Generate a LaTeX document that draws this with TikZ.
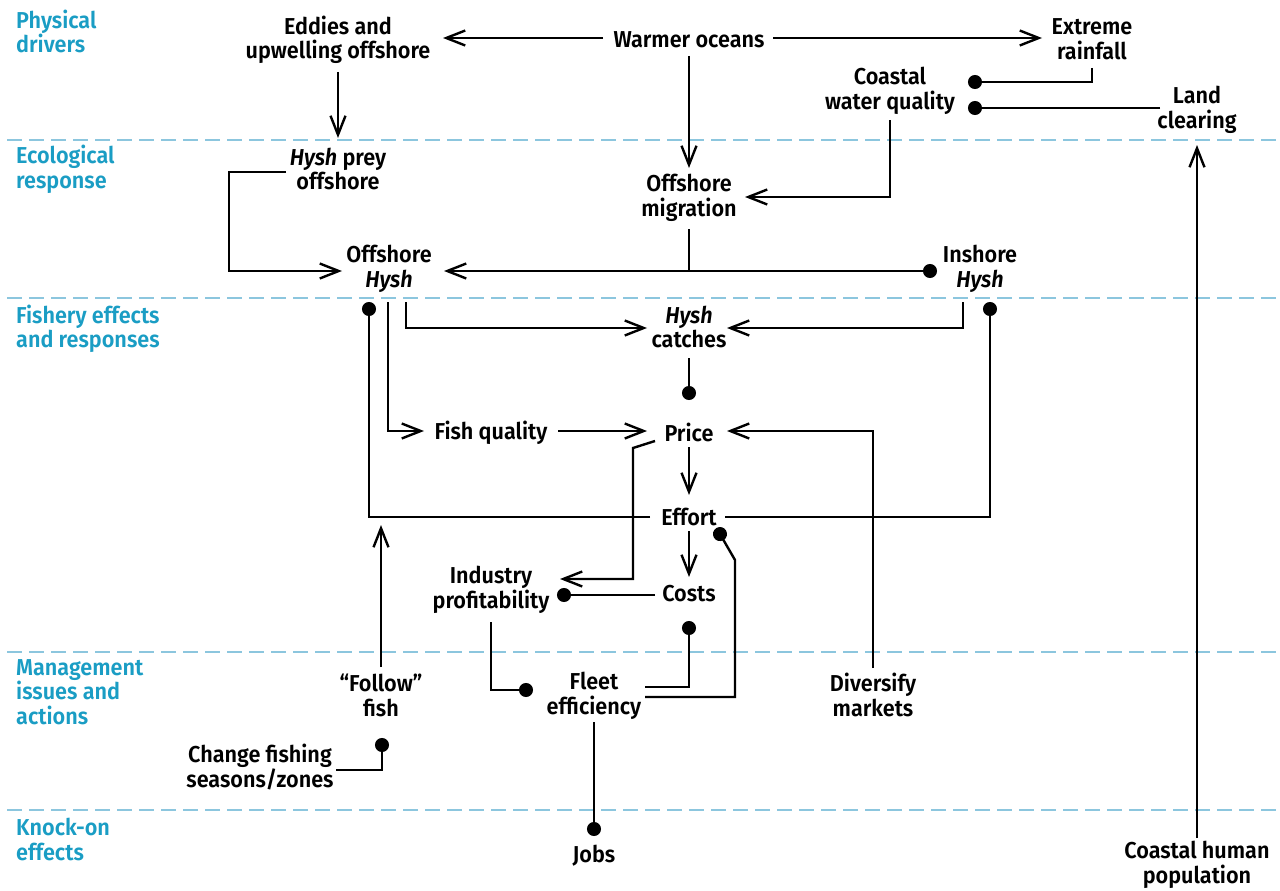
\documentclass[tikz,border=0pt]{standalone}
\usepackage{fontspec}
\setmainfont{Fira Sans SemiBold}[ItalicFont={Fira Sans SemiBold Italic}, FakeStretch=0.94]
\usetikzlibrary{arrows.meta,calc}
\definecolor{secblue}{RGB}{26,157,196}
\definecolor{ruleblue}{RGB}{140,198,222}
% strut giving every line box the same height/depth
\newcommand\lnstrut{\rule[-2pt]{0pt}{24pt}}
\begin{document}
\begin{tikzpicture}[x=1pt,y=-1pt,
  every node/.style={font=\fontsize{23}{24.5}\selectfont, align=center, inner sep=0pt,
    execute at begin node=\lnstrut, execute at end node=\lnstrut},
  sec/.style={text=secblue, align=left, anchor=west},
  band/.style={ruleblue, line width=1.6pt, dash pattern=on 15pt off 7pt},
  link/.style={line width=2.4pt},
  arr/.style={link, -{Straight Barb[length=19pt,width=15pt]}},
  neg/.style={link, -{Circle[length=14pt]}},
  negarr/.style={link, {Circle[length=14pt]}-{Straight Barb[length=19pt,width=15pt]}}]
\useasboundingbox (0,0) rectangle (1280,891);

% band separators
\foreach \yy in {140,298,652,810} \draw[band] (7,\yy) -- (1278,\yy);

% band titles
\node[sec] (s1) at (16,32.5) {Physical\\drivers};
\node[sec] (s2) at (16,169.5) {Ecological\\response};
\node[sec] (s3) at (16,329) {Fishery effects\\and responses};
\node[sec] (s4) at (16,693) {Management\\issues and\\actions};
\node[sec] (s5) at (16,840.5) {Knock-on\\effects};

% factors
\node (eddies) at (338,40) {Eddies and\\upwelling offshore};
\node (warm) at (689,38) {Warmer oceans};
\node (rain) at (1092,40) {Extreme\\rainfall};
\node (coastal) at (890,91) {Coastal\\water quality};
\node (land) at (1197,110) {Land\\clearing};
\node (prey) at (338,170) {\textit{Hysh} prey\\offshore};
\node (migr) at (689,198) {Offshore\\migration};
\node (offh) at (389,269) {Offshore\\\textit{Hysh}};
\node (inh) at (980,269) {Inshore\\\textit{Hysh}};
\node (catch) at (689,328) {\textit{Hysh}\\catches};
\node (fishq) at (491,431) {Fish quality};
\node (price) at (689,431) {Price};
\node (effort) at (689,515) {Effort};
\node (costs) at (689,591) {Costs};
\node (indp) at (491,590) {Industry\\profitability};
\node (follow) at (381,696) {“Follow”\\fish};
\node (fleet) at (594,696) {Fleet\\efficiency};
\node (divers) at (873,696) {Diversify\\markets};
\node (change) at (260,767) {Change fishing\\seasons/zones};
\node (jobs) at (594,853) {Jobs};
\node (pop) at (1197,865) {Coastal human\\population};

% physical drivers
\draw[arr] ($(warm)+(-86,0)$) -- ($(eddies)+(105,-2)$);
\draw[arr] ($(warm)+(84,0)$) -- ($(rain)+(-50,-2)$);
\draw[arr] ($(warm)+(0,18)$) -- ($(migr)+(0,-30)$);
\draw[arr] ($(eddies)+(0,32)$) -- ($(prey)+(0,-32)$);
\draw[neg] ($(rain)+(0,28)$) |- ($(coastal)+(78,-9)$);
\draw[neg] ($(land)+(-37,-2)$) -- ($(coastal)+(78,17)$);
\draw[arr] ($(coastal)+(0,29)$) |- ($(migr)+(56,-1)$);
\draw[arr] ($(pop)+(0,-27)$) -- ($(land)+(0,35)$);

% ecological response
\draw[arr] ($(prey)+(-52,2)$) -- ++(-57,0) |- ($(offh)+(-47,2)$);
\draw[negarr] ($(inh)+(-43,2)$) -- ($(offh)+(55,2)$);
\draw[link] ($(migr)+(0,31)$) -- ($(migr.center |- offh.center)+(0,2)$);

% fishery effects
\draw[arr] ($(offh)+(17,33)$) |- ($(catch)+(-42,0)$);
\draw[arr] ($(inh)+(-17,33)$) |- ($(catch)+(38,0)$);
\draw[arr] ($(offh)+(-1,33)$) |- ($(fishq)+(-67,0)$);
\draw[arr] ($(fishq)+(67,0)$) -- ($(price)+(-42,0)$);
\draw[arr] ($(divers)+(0,-28)$) |- ($(price)+(38,0)$);
\draw[neg] ($(catch)+(0,30)$) -- ($(price)+(0,-31)$);
\draw[arr] ($(price)+(0,16)$) -- ($(effort)+(0,-20)$);
\draw[arr] ($(price)+(-34,10)$) -- ++(-22,7) |- ($(indp)+(69,-11)$);
\draw[arr] ($(effort)+(0,16)$) -- ($(costs)+(0,-14)$);
\draw[neg] ($(costs)+(-34,4)$) -- ($(indp)+(66,5)$);
\draw[neg] ($(effort)+(-39,2)$) -| ($(offh)+(-20,33)$);
\draw[neg] ($(effort)+(36,2)$) -| ($(inh)+(10,33)$);

% management
\draw[arr] ($(follow)+(0,-29)$) -- ($(follow |- effort)+(0,10)$);
\draw[neg] ($(change)+(76,3)$) -| ($(follow)+(1,42)$);
\draw[neg] ($(indp)+(0,32)$) |- ($(fleet)+(-61,-6)$);
\draw[neg] ($(fleet)+(51,-9)$) -| ($(costs)+(0,30)$);
\draw[neg] ($(fleet)+(51,1)$) -| ($(effort)+(46,45)$) -- ($(effort)+(27.5,13)$);

% knock-on effects
\draw[neg] ($(fleet)+(0,26)$) -- ($(jobs)+(0,-17)$);
\end{tikzpicture}
\end{document}
